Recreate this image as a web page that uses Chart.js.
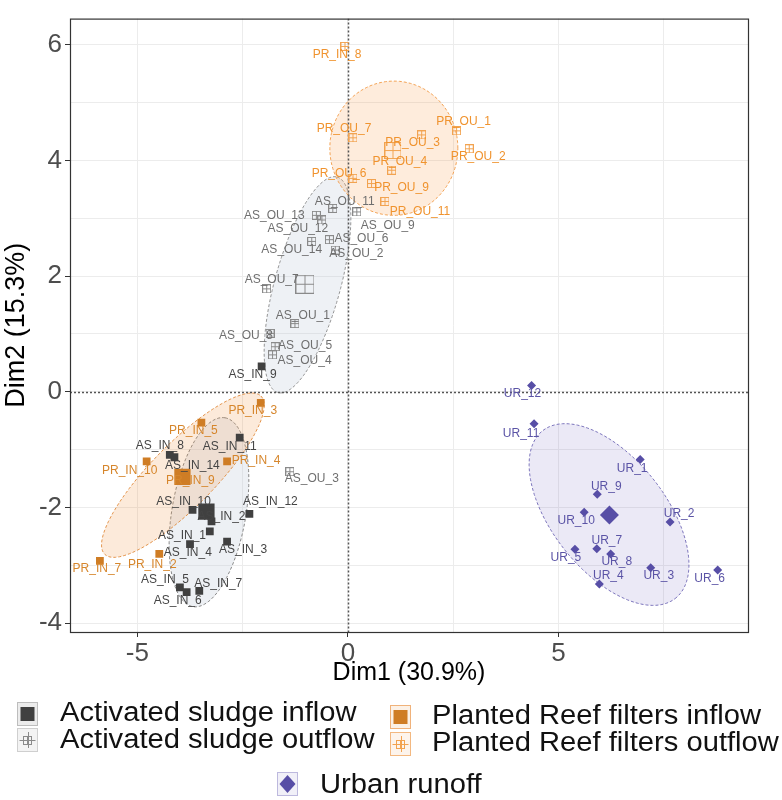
<!DOCTYPE html>
<html>
<head>
<meta charset="utf-8">
<script src="https://cdn.jsdelivr.net/npm/chart.js@4"></script>
<style>
html, body { margin: 0; padding: 0; background: #fff; }
#wrap { width: 782px; height: 800px; position: relative; }
</style>
</head>
<body>
<div id="wrap"><canvas id="pcaChart"></canvas></div>
<script>
// group names (legend order)
var groupNames = ['Activated sludge inflow', 'Activated sludge outflow',
    'Planted Reef filters inflow', 'Planted Reef filters outflow', 'Urban runoff'];

// individuals, Dim1 / Dim2 scores
var asInNames = ['AS_IN_1','AS_IN_2','AS_IN_3','AS_IN_4','AS_IN_5','AS_IN_6','AS_IN_7',
    'AS_IN_8','AS_IN_9','AS_IN_10','AS_IN_11','AS_IN_12','AS_IN_14'];
var asInX = [-3.75, -3.24, -2.87, -3.28, -3.99, -3.83, -3.53, -4.23, -2.05, -3.69, -2.57, -2.34, -4.12];
var asInY = [-2.63, -2.24, -2.59, -2.41, -3.38, -3.46, -3.44, -1.09, 0.44, -2.04, -0.79, -2.11, -1.13];

var asOuNames = ['AS_OU_1','AS_OU_2','AS_OU_3','AS_OU_4','AS_OU_5','AS_OU_6','AS_OU_7',
    'AS_OU_8','AS_OU_9','AS_OU_11','AS_OU_12','AS_OU_13','AS_OU_14'];
var asOuX = [-1.26, -0.30, -1.38, -1.79, -1.73, -0.44, -1.93, -1.85, 0.21, -0.36, -0.62, -0.75, -0.86];
var asOuY = [1.18, 2.45, -1.38, 0.64, 0.78, 2.63, 1.78, 1.01, 3.11, 3.17, 2.97, 3.05, 2.60];

var prInNames = ['PR_IN_2','PR_IN_3','PR_IN_4','PR_IN_5','PR_IN_7','PR_IN_9','PR_IN_10'];
var prInX = [-4.48, -2.07, -2.87, -3.48, -5.89, -3.93, -4.78];
var prInY = [-2.80, -0.19, -1.20, -0.53, -2.92, -1.48, -1.20];

var prOuNames = ['PR_IN_8','PR_OU_1','PR_OU_2','PR_OU_3','PR_OU_4','PR_OU_6','PR_OU_7','PR_OU_9','PR_OU_11'];
var prOuX = [-0.07, 2.58, 2.88, 1.75, 1.04, 0.12, 0.12, 0.56, 0.88];
var prOuY = [5.97, 4.51, 4.20, 4.44, 3.83, 3.69, 4.39, 3.60, 3.29];

var urNames = ['UR_1','UR_2','UR_3','UR_4','UR_5','UR_6','UR_7','UR_8','UR_9','UR_10','UR_11','UR_12'];
var urX = [6.94, 7.65, 7.19, 5.97, 5.39, 8.78, 5.91, 6.24, 5.92, 5.61, 4.42, 4.36];
var urY = [-1.17, -2.25, -3.04, -3.32, -2.72, -3.08, -2.71, -2.80, -1.77, -2.08, -0.55, 0.11];

// group means (AS_IN, AS_OU, PR_IN, PR_OU, UR)
var meanX = [-3.36, -1.02, -3.93, 1.07, 6.21];
var meanY = [-2.07, 1.86, -1.47, 4.17, -2.13];

// confidence ellipses: centre and two conjugate half-axes, in Dim units
var ellCx = [-3.30, -0.96, -3.92, 1.09, 6.20];
var ellCy = [-2.08, 1.85, -1.44, 4.21, -2.12];
var ellAx = [0.38, 0.70, 1.853, 1.52, 1.568];
var ellAy = [1.632, 1.863, 1.368, 0.0, -1.453];
var ellBx = [0.867, 0.755, 0.544, 0.0, 1.069];
var ellBy = [-0.104, -0.147, -0.381, 1.16, 0.595];

// axis ticks
var xTickValues = [-5, -2.5, 0, 2.5, 5, 7.5];
var yTickValues = [-4, -3, -2, -1, 0, 1, 2, 3, 4, 5, 6];

// colours per group
var markColors = ['#404040', '#8a8a8a', '#cf7d25', '#f2a350', '#574ea6'];
var textColors = ['#454545', '#6f6f6f', '#d6862c', '#f0932e', '#5b54a6'];
var ellFill = ['rgba(185,196,212,0.26)', 'rgba(185,196,212,0.24)', 'rgba(240,150,70,0.20)', 'rgba(250,160,80,0.20)', 'rgba(110,100,190,0.14)'];
var ellLine = ['#7a7a7a', '#8a8a8a', '#e0893a', '#f29a45', '#6f68b5'];

// label nudges in px (repelled text)
var labelShift = {
    'AS_IN_1': [-8, -8], 'AS_IN_2': [10, -5], 'AS_IN_3': [16, 8], 'AS_IN_4': [-22, 21],
    'AS_IN_5': [-15, -8], 'AS_IN_6': [-9, 9], 'AS_IN_7': [19, -7], 'AS_IN_8': [-10, -9],
    'AS_IN_9': [-9, 8], 'AS_IN_10': [-9, -8], 'AS_IN_11': [-10, 9], 'AS_IN_12': [21, -12],
    'AS_IN_14': [18, 8],
    'AS_OU_1': [8, -8], 'AS_OU_2': [21, 4], 'AS_OU_3': [22, 7], 'AS_OU_4': [32, 6],
    'AS_OU_5': [30, -1], 'AS_OU_6': [32, -1], 'AS_OU_7': [5, -9], 'AS_OU_8': [-24, 2],
    'AS_OU_9': [31, 14], 'AS_OU_11': [12, -7], 'AS_OU_12': [-24, 9], 'AS_OU_13': [-42, 0],
    'AS_OU_14': [-20, 8],
    'PR_IN_2': [-7, 11], 'PR_IN_3': [-8, 8], 'PR_IN_4': [29, -1], 'PR_IN_5': [-8, 8],
    'PR_IN_7': [-3, 8], 'PR_IN_9': [8, 3], 'PR_IN_10': [-17, 9],
    'PR_IN_8': [-8, 8], 'PR_OU_1': [7, -9], 'PR_OU_2': [9, 8], 'PR_OU_3': [-9, 8],
    'PR_OU_4': [8, -9], 'PR_OU_6': [-14, -5], 'PR_OU_7': [-9, -9], 'PR_OU_9': [30, 4],
    'PR_OU_11': [35, 10],
    'UR_1': [-8, 9], 'UR_2': [9, -8], 'UR_3': [8, 8], 'UR_4': [9, -8], 'UR_5': [-9, 8],
    'UR_6': [-8, 9], 'UR_7': [10, -8], 'UR_8': [6, 8], 'UR_9': [9, -8], 'UR_10': [-8, 8],
    'UR_11': [-13, 10], 'UR_12': [-9, 8]
};

var FONT = '"Liberation Sans", Arial, Helvetica, sans-serif';

// square with a plus inside
function crossBox(size, color) {
    var c = document.createElement('canvas');
    c.width = size; c.height = size;
    var g = c.getContext('2d');
    g.strokeStyle = color;
    g.lineWidth = 1;
    g.strokeRect(0.5, 0.5, size - 1, size - 1);
    g.beginPath();
    g.moveTo(size / 2, 0); g.lineTo(size / 2, size);
    g.moveTo(0, size / 2); g.lineTo(size, size / 2);
    g.stroke();
    return c;
}

function toPoints(xs, ys) {
    return xs.map(function (v, i) { return { x: v, y: ys[i] }; });
}

function groupSet(xs, ys, names, gi, style, radius) {
    return {
        data: toPoints(xs, ys),
        names: names,
        labelColor: textColors[gi],
        pointStyle: style,
        pointRadius: radius,
        pointHoverRadius: radius,
        backgroundColor: markColors[gi],
        borderColor: markColors[gi],
        pointBorderWidth: 0,
        showLine: false
    };
}

function meanSet(gi, style, radius) {
    return {
        data: [{ x: meanX[gi], y: meanY[gi] }],
        pointStyle: style,
        pointRadius: radius,
        pointHoverRadius: radius,
        backgroundColor: markColors[gi],
        borderColor: markColors[gi],
        pointBorderWidth: 0,
        showLine: false
    };
}

var ellipsePlugin = {
    id: 'groupEllipses',
    beforeDatasetsDraw: function (chart) {
        var ctx = chart.ctx, area = chart.chartArea;
        var xs = chart.scales.x, ys = chart.scales.y;
        ctx.save();
        ctx.beginPath();
        ctx.rect(area.left, area.top, area.right - area.left, area.bottom - area.top);
        ctx.clip();
        for (var i = 0; i < ellCx.length; i++) {
            ctx.beginPath();
            for (var k = 0; k <= 144; k++) {
                var t = k / 144 * Math.PI * 2;
                var px = xs.getPixelForValue(ellCx[i] + Math.cos(t) * ellAx[i] + Math.sin(t) * ellBx[i]);
                var py = ys.getPixelForValue(ellCy[i] + Math.cos(t) * ellAy[i] + Math.sin(t) * ellBy[i]);
                if (k === 0) ctx.moveTo(px, py); else ctx.lineTo(px, py);
            }
            ctx.closePath();
            ctx.fillStyle = ellFill[i];
            ctx.fill();
            ctx.setLineDash([3, 2]);
            ctx.lineWidth = 0.9;
            ctx.strokeStyle = ellLine[i];
            ctx.stroke();
        }
        // dotted reference lines through the origin
        ctx.setLineDash([2, 2]);
        ctx.lineWidth = 1.5;
        ctx.strokeStyle = '#555';
        var x0 = Math.round(xs.getPixelForValue(0)) + 0.5;
        var y0 = Math.round(ys.getPixelForValue(0)) + 0.5;
        ctx.beginPath();
        ctx.moveTo(x0, area.top); ctx.lineTo(x0, area.bottom);
        ctx.moveTo(area.left, y0); ctx.lineTo(area.right, y0);
        ctx.stroke();
        ctx.restore();
    }
};

var labelPlugin = {
    id: 'pointNames',
    afterDatasetsDraw: function (chart) {
        var ctx = chart.ctx;
        ctx.save();
        ctx.font = '12px ' + FONT;
        ctx.textAlign = 'center';
        ctx.textBaseline = 'middle';
        chart.data.datasets.forEach(function (ds, i) {
            if (!ds.names) return;
            var meta = chart.getDatasetMeta(i);
            ctx.fillStyle = ds.labelColor;
            ds.names.forEach(function (n, j) {
                var el = meta.data[j];
                var d = labelShift[n] || [0, -9];
                ctx.fillText(n, el.x + d[0], el.y + d[1]);
            });
        });
        ctx.restore();
    }
};

var framePlugin = {
    id: 'panelFrame',
    afterDraw: function (chart) {
        var ctx = chart.ctx, a = chart.chartArea;
        ctx.save();
        ctx.strokeStyle = '#333';
        ctx.lineWidth = 1.2;
        ctx.strokeRect(a.left + 0.5, a.top + 0.5, a.right - a.left, a.bottom - a.top);

        // legend
        var keys = [
            { box: [17, 702], text: [60, 714], kind: 'square', gi: 0, fill: '#ececec', edge: '#bdbdbd' },
            { box: [17, 728], text: [60, 741], kind: 'cross', gi: 1, fill: '#f3f3f3', edge: '#cfcfcf' },
            { box: [390, 705], text: [432, 717], kind: 'square', gi: 2, fill: '#fcf1e6', edge: '#f0b27a' },
            { box: [390, 732], text: [432, 744], kind: 'cross', gi: 3, fill: '#fdf4ec', edge: '#f3b880' },
            { box: [277, 772], text: [320, 786], kind: 'diamond', gi: 4, fill: '#f1f0f8', edge: '#bdb9de' }
        ];
        keys.forEach(function (k) {
            var bx = k.box[0], by = k.box[1], w = 21, h = 24;
            var cx = bx + w / 2, cy = by + h / 2;
            ctx.fillStyle = k.fill;
            ctx.fillRect(bx, by, w, h);
            ctx.strokeStyle = k.edge;
            ctx.lineWidth = 1;
            ctx.strokeRect(bx + 0.5, by + 0.5, w - 1, h - 1);
            ctx.fillStyle = markColors[k.gi];
            if (k.kind === 'square') {
                ctx.fillRect(cx - 7, cy - 7, 14, 14);
            } else if (k.kind === 'diamond') {
                ctx.beginPath();
                ctx.moveTo(cx, cy - 9); ctx.lineTo(cx + 8, cy);
                ctx.lineTo(cx, cy + 9); ctx.lineTo(cx - 8, cy);
                ctx.closePath();
                ctx.fill();
            } else {
                var img = crossBox(9, markColors[k.gi]);
                ctx.drawImage(img, Math.round(cx - 4.5), Math.round(cy - 4.5));
                ctx.strokeStyle = markColors[k.gi];
                ctx.beginPath();
                ctx.moveTo(Math.round(cx) + 0.5, cy - 8); ctx.lineTo(Math.round(cx) + 0.5, cy + 8);
                ctx.moveTo(cx - 8, Math.round(cy) + 0.5); ctx.lineTo(cx + 8, Math.round(cy) + 0.5);
                ctx.stroke();
            }
            // legend text is slightly wide in this layout
            ctx.save();
            ctx.translate(k.text[0], k.text[1]);
            ctx.scale(1.08, 1);
            ctx.fillStyle = '#111';
            ctx.font = '27px ' + FONT;
            ctx.textAlign = 'left';
            ctx.textBaseline = 'middle';
            ctx.fillText(groupNames[k.gi], 0, 0);
            ctx.restore();
        });
        ctx.restore();
    }
};

var chart = new Chart(document.getElementById('pcaChart'), {
    type: 'scatter',
    data: {
        datasets: [
            groupSet(asInX, asInY, asInNames, 0, 'rect', 5.5),
            groupSet(asOuX, asOuY, asOuNames, 1, crossBox(9, markColors[1]), 5),
            groupSet(prInX, prInY, prInNames, 2, 'rect', 5.5),
            groupSet(prOuX, prOuY, prOuNames, 3, crossBox(9, markColors[3]), 5),
            groupSet(urX, urY, urNames, 4, 'rectRot', 4.5),
            meanSet(0, 'rect', 11.5),
            meanSet(1, crossBox(19, markColors[1]), 10),
            meanSet(2, 'rect', 11.5),
            meanSet(3, crossBox(17, markColors[3]), 9),
            meanSet(4, 'rectRot', 9.5)
        ]
    },
    options: {
        responsive: true,
        maintainAspectRatio: false,
        animation: false,
        devicePixelRatio: 1,
        layout: { padding: { top: 12, right: 34, bottom: 108, left: 0 } },
        plugins: {
            legend: { display: false },
            tooltip: { enabled: false }
        },
        scales: {
            x: {
                type: 'linear',
                min: -6.6,
                max: 9.5,
                afterBuildTicks: function (s) { s.ticks = xTickValues.map(function (v) { return { value: v }; }); },
                afterFit: function (s) { s.height = 60; },
                border: { display: false },
                grid: {
                    color: '#ececec',
                    lineWidth: 1,
                    tickLength: 5,
                    tickColor: function (c) { return c.tick && c.tick.value % 5 === 0 ? '#333' : 'rgba(0,0,0,0)'; }
                },
                ticks: {
                    autoSkip: false,
                    maxRotation: 0,
                    padding: 1,
                    color: '#4d4d4d',
                    font: { family: FONT, size: 26 },
                    callback: function (v) { return v % 5 === 0 ? String(v) : ''; }
                },
                title: {
                    display: true,
                    text: 'Dim1 (30.9%)',
                    color: '#000',
                    font: { family: FONT, size: 25 },
                    padding: { top: 0, bottom: 4 }
                }
            },
            y: {
                type: 'linear',
                min: -4.15,
                max: 6.45,
                afterBuildTicks: function (s) { s.ticks = yTickValues.map(function (v) { return { value: v }; }); },
                afterFit: function (s) { s.width = 70; },
                border: { display: false },
                grid: {
                    color: '#ececec',
                    lineWidth: 1,
                    tickLength: 5,
                    tickColor: function (c) { return c.tick && c.tick.value % 2 === 0 ? '#333' : 'rgba(0,0,0,0)'; }
                },
                ticks: {
                    autoSkip: false,
                    padding: 3,
                    color: '#4d4d4d',
                    font: { family: FONT, size: 26 },
                    callback: function (v) { return v % 2 === 0 ? String(v) : ''; }
                },
                title: {
                    display: true,
                    text: 'Dim2 (15.3%)',
                    color: '#000',
                    font: { family: FONT, size: 27 },
                    padding: { top: 0, bottom: 0 }
                }
            }
        }
    },
    plugins: [ellipsePlugin, labelPlugin, framePlugin]
});
</script>
</body>
</html>
